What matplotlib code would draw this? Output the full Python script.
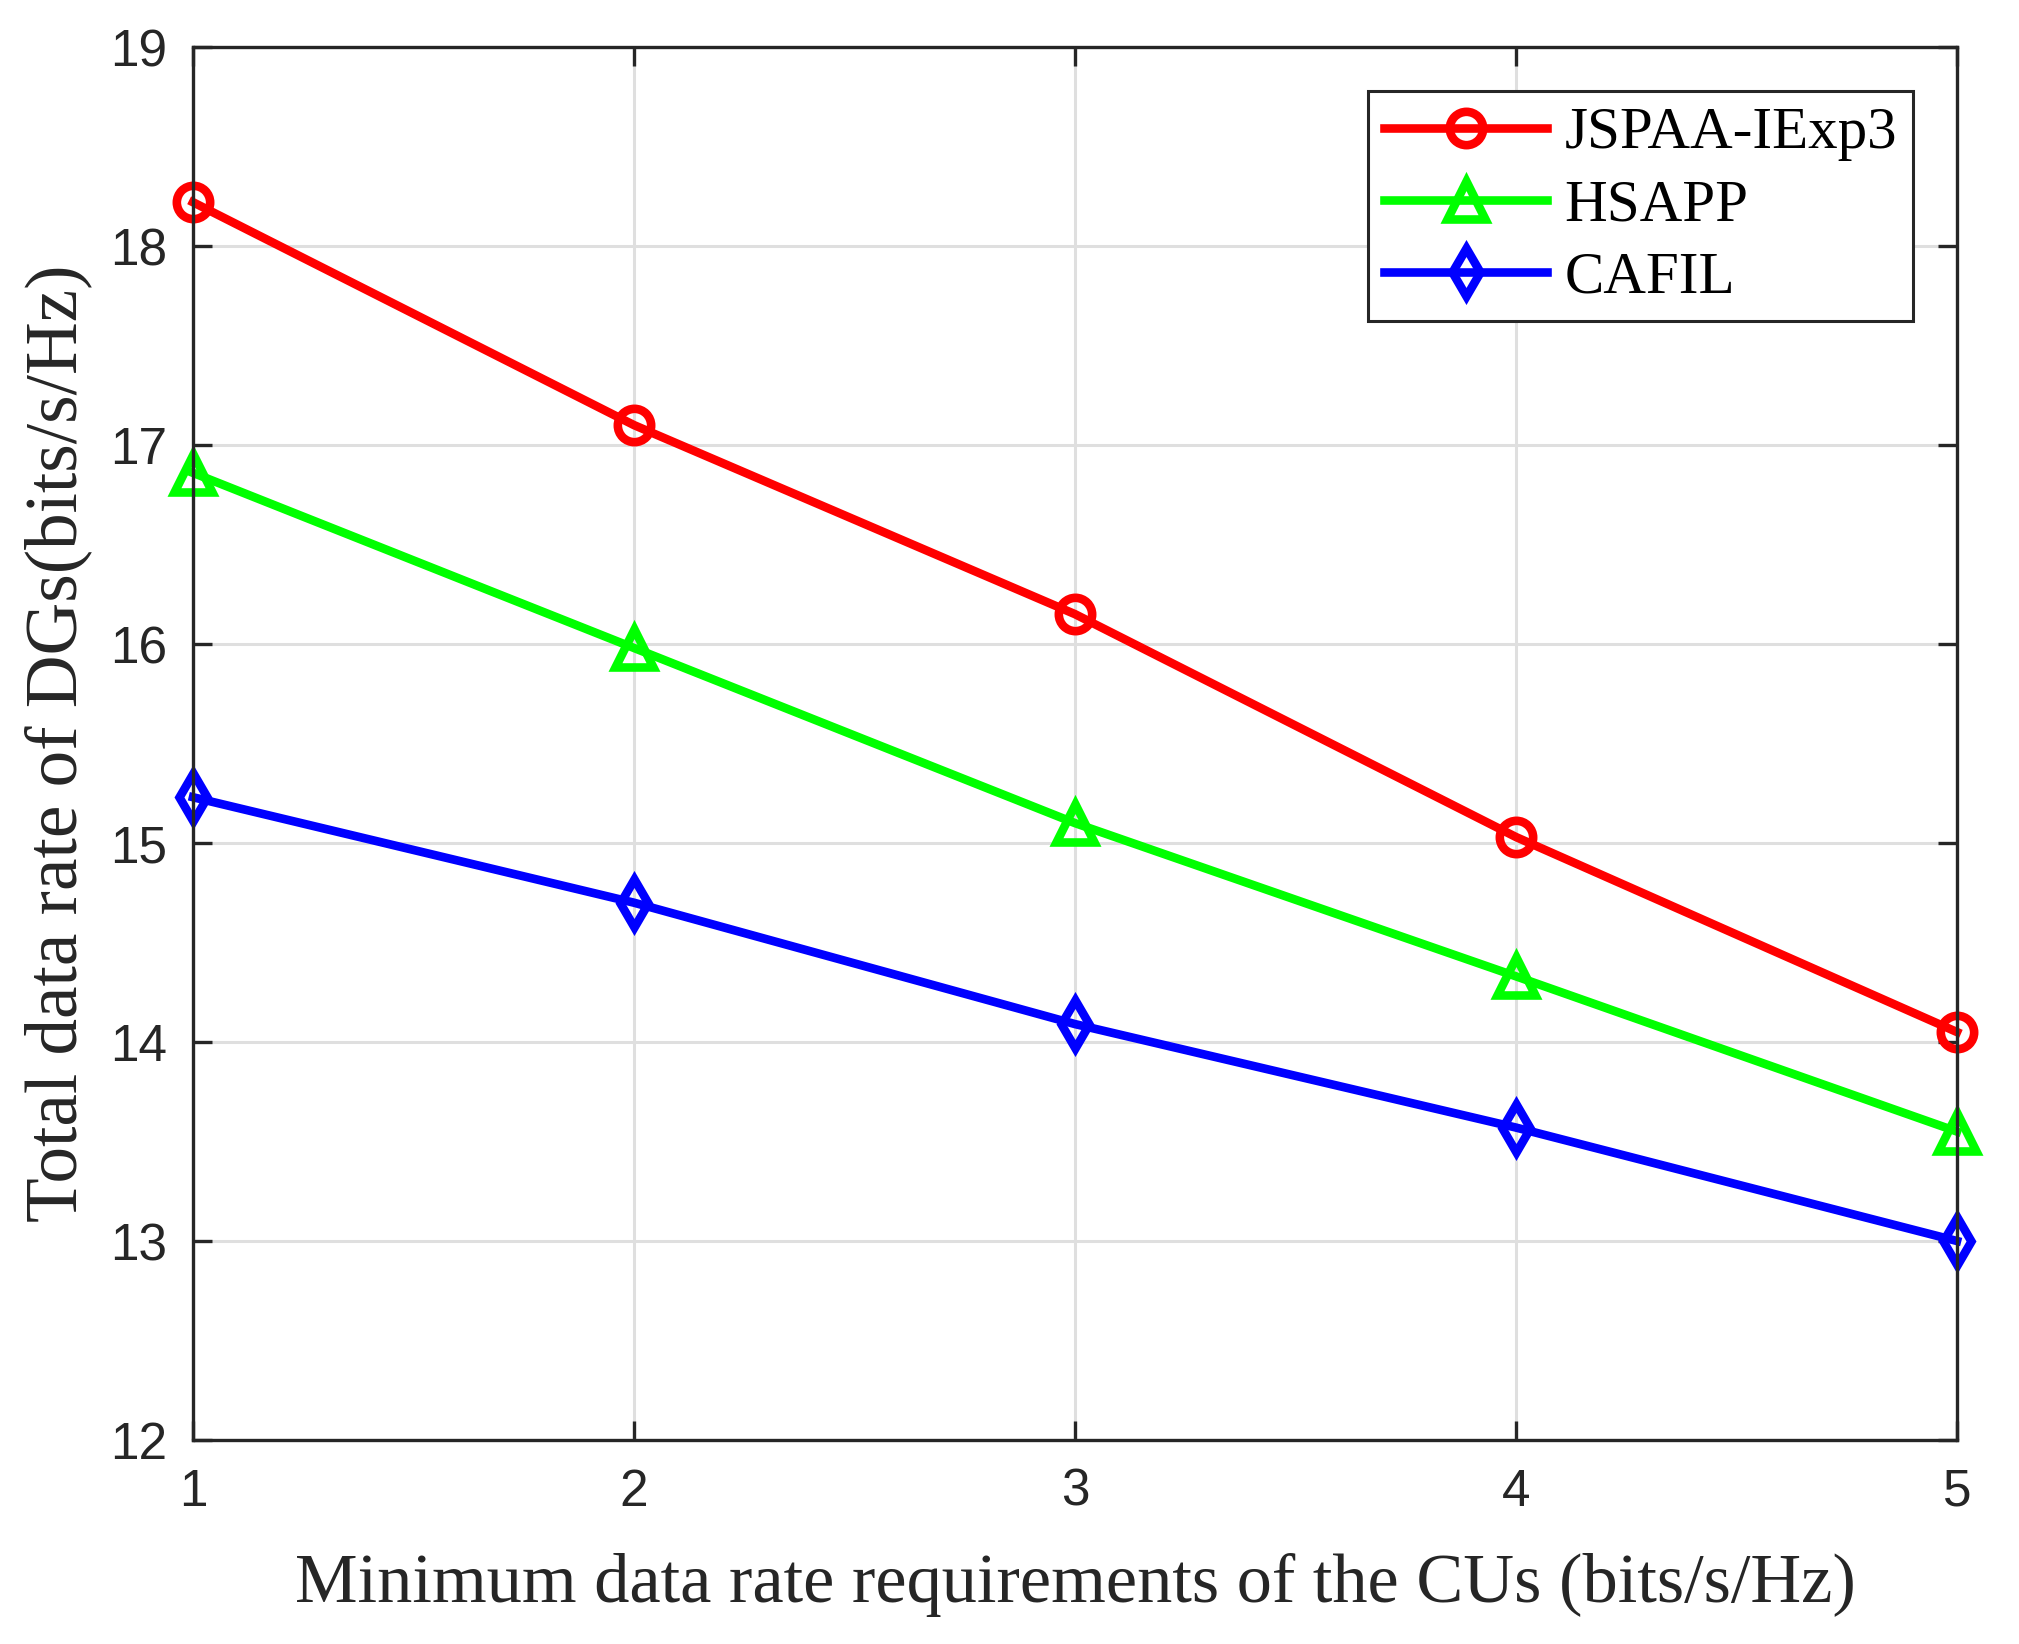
#!/usr/bin/env python3
"""Total DG data rate versus the CU minimum-rate requirement."""

import matplotlib

matplotlib.use("Agg")
import matplotlib.pyplot as plt

min_rate = [1, 2, 3, 4, 5]
jspaa_iexp3 = [18.22, 17.10, 16.15, 15.03, 14.05]
hsapp = [16.86, 15.98, 15.10, 14.33, 13.55]
cafil = [15.23, 14.70, 14.09, 13.57, 13.00]

series_labels = ["JSPAA-IExp3", "HSAPP", "CAFIL"]
x_ticks = [1, 2, 3, 4, 5]
y_ticks = [12, 13, 14, 15, 16, 17, 18, 19]

dark = "#262626"
width_px, height_px = 2019, 1644
dpi = 100

figure = plt.figure(figsize=(width_px / dpi, height_px / dpi), dpi=dpi)
axes = figure.add_axes([193 / width_px, 1 - 1440 / height_px,
                        (1957 - 193) / width_px, (1440 - 47) / height_px])

styles = [
    (jspaa_iexp3, "#ff0000", "o", 24),
    (hsapp, "#00ff00", "^", 28),
    (cafil, "#0000ff", "d", 24),
]
for (values, color, marker, size), label in zip(styles, series_labels):
    axes.plot(min_rate, values, color=color, linewidth=6.2, marker=marker,
              markersize=size, markerfacecolor="none", markeredgewidth=6.2,
              markeredgecolor=color, label=label, clip_on=False, zorder=3)

axes.set_xlim(1, 5)
axes.set_ylim(12, 19)
axes.set_xticks(x_ticks)
axes.set_yticks(y_ticks)
axes.grid(True, color="#dfdfdf", linewidth=2.2)
axes.set_axisbelow(True)

for spine in axes.spines.values():
    spine.set_color(dark)
    spine.set_linewidth(2.4)
    spine.set_zorder(4)

sans = ["Liberation Sans", "DejaVu Sans"]
serif = ["Liberation Serif", "DejaVu Serif"]
axes.tick_params(direction="in", length=13.7, width=2.4, color=dark,
                 labelcolor=dark, top=True, right=True, labelsize=37)
axes.tick_params(axis="x", pad=20)
axes.tick_params(axis="y", pad=18.7)
for tick_label in axes.get_xticklabels() + axes.get_yticklabels():
    tick_label.set_family(sans)

axes.set_xlabel("Minimum data rate requirements of the CUs (bits/s/Hz)",
                family=serif, fontsize=50.7, color=dark, va="baseline")
axes.xaxis.set_label_coords(0.5, (1440 - 1602) / 1393)
axes.set_ylabel("Total data rate of DGs(bits/s/Hz)",
                family=serif, fontsize=52.7, color=dark, va="baseline")
axes.yaxis.set_label_coords((76 - 193) / 1764, 0.5)

legend = axes.legend(loc="upper right", bbox_to_anchor=(0.975, 0.9684),
                     borderaxespad=0, prop={"family": serif, "size": 42.5},
                     fancybox=False, framealpha=1, edgecolor=dark,
                     handlelength=2.75, handletextpad=0.3, borderpad=0.27,
                     labelspacing=0.3, numpoints=1)
legend.get_frame().set_linewidth(2.2)

figure.savefig("out.png", dpi=dpi)
